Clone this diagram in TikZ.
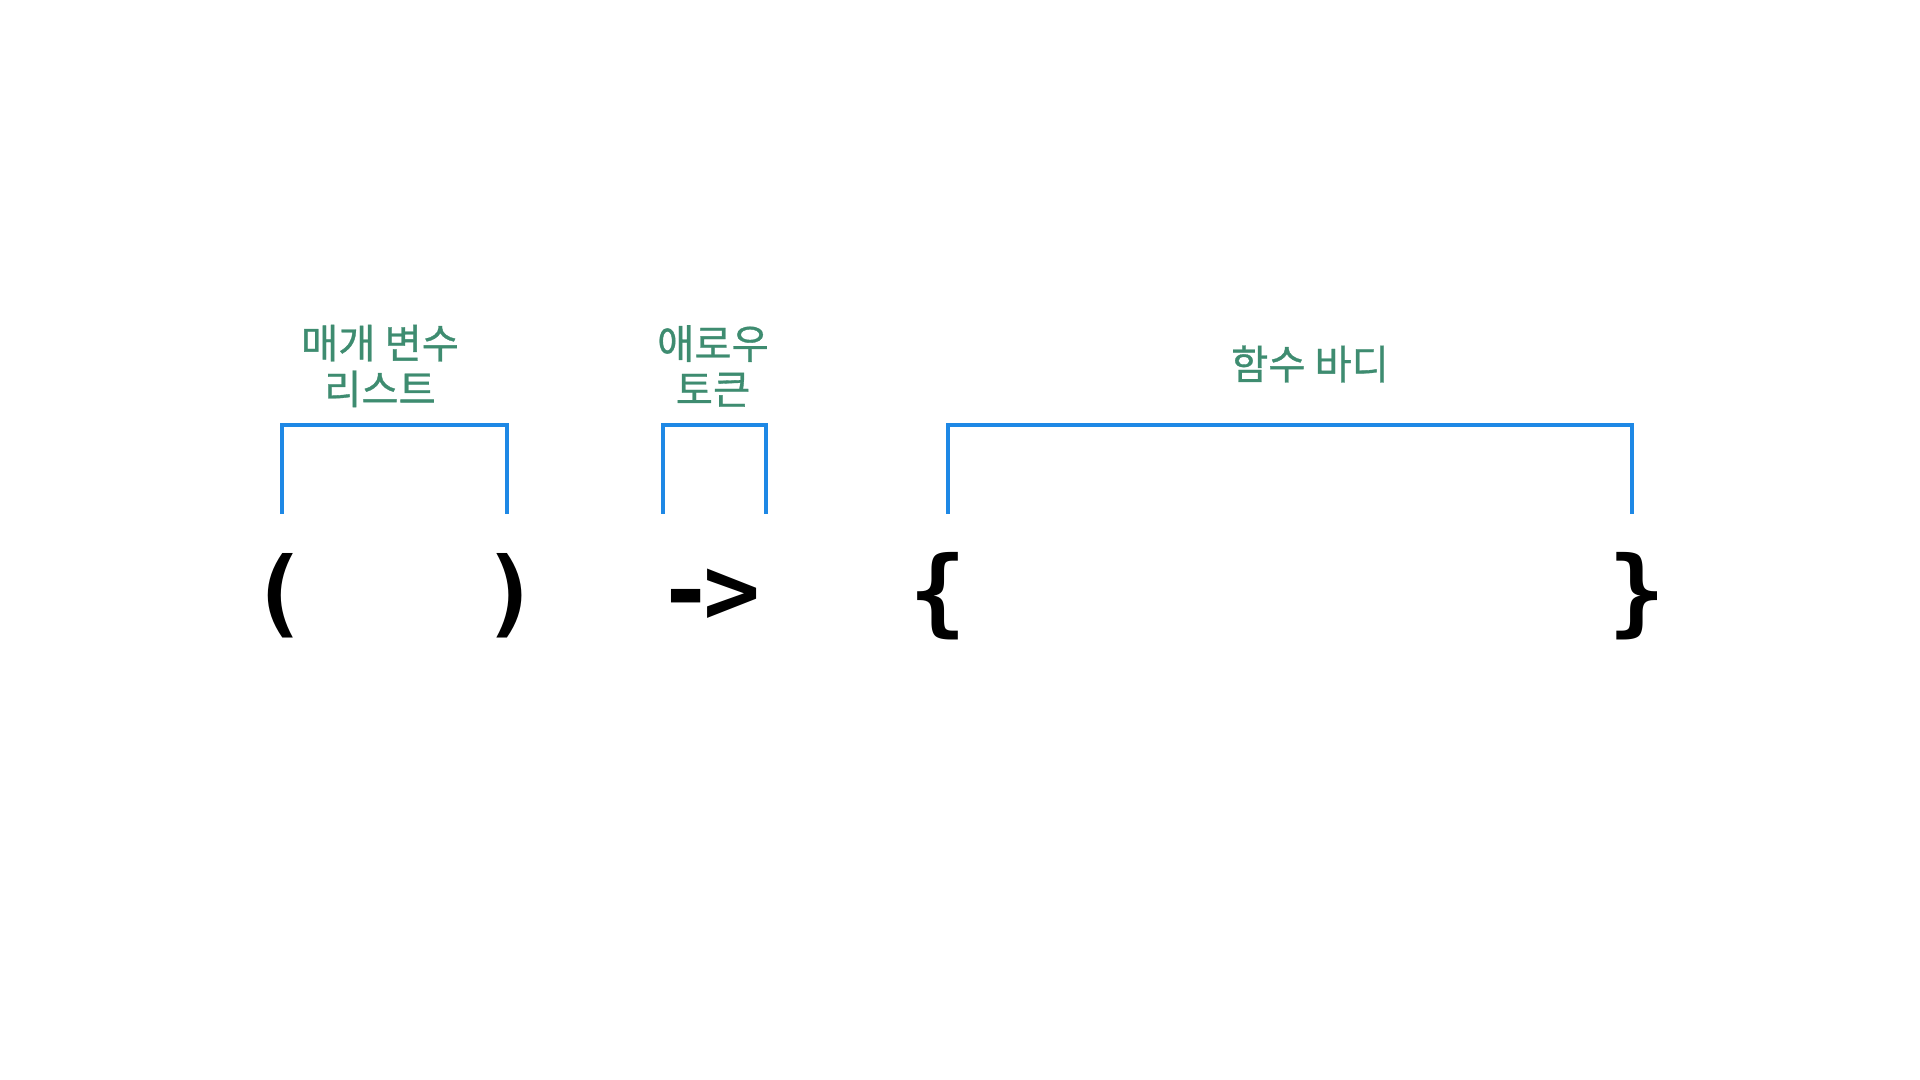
\documentclass[tikz,border=0pt]{standalone}
\usepackage{fontspec}
\newfontfamily\kofont[FakeBold=0.8]{Noto Sans CJK KR}
\newfontfamily\codefont{DejaVu Sans Mono}
\definecolor{lblgreen}{RGB}{62,140,112}
\definecolor{brkblue}{RGB}{30,136,229}
\tikzset{
 lbl/.style={text=lblgreen,font=\kofont\fontsize{11.5}{13}\selectfont,align=center,inner sep=0},
 sym/.style={font=\codefont\bfseries\fontsize{27}{27}\selectfont,inner sep=0},
 brk/.style={brkblue,line width=0.9pt}
}

\begin{document}
\begin{tikzpicture}[x=0.01cm,y=-0.01cm]
 \useasboundingbox (0,0) rectangle (1920,1080);
 \node[sym] (lpar) at (279,596) {(};
 \node[sym] (rpar) at (511,596) {)};
 \node[sym] (arrtok) at (709,596) {-\kern-3pt>};
 \node[sym] (lbrace) at (938,596) {\{};
 \node[sym] (rbrace) at (1637,596) {\}};
 \coordinate (pa) at (282,514);
 \coordinate (pb) at (507,514);
 \coordinate (aa) at (663,514);
 \coordinate (ab) at (766,514);
 \coordinate (ba) at (948,514);
 \coordinate (bb) at (1632,514);
 \draw[brk] (pa) -- ++(0,-89) -| (pb);
 \draw[brk] (aa) -- ++(0,-89) -| (ab);
 \draw[brk] (ba) -- ++(0,-89) -| (bb);
 \node[lbl] (params) at (380,366) {매개 변수\\리스트};
 \node[lbl] (arrlbl) at (713,366) {애로우\\토큰};
 \node[lbl] (body) at (1310,364) {함수 바디};
\end{tikzpicture}
\end{document}
